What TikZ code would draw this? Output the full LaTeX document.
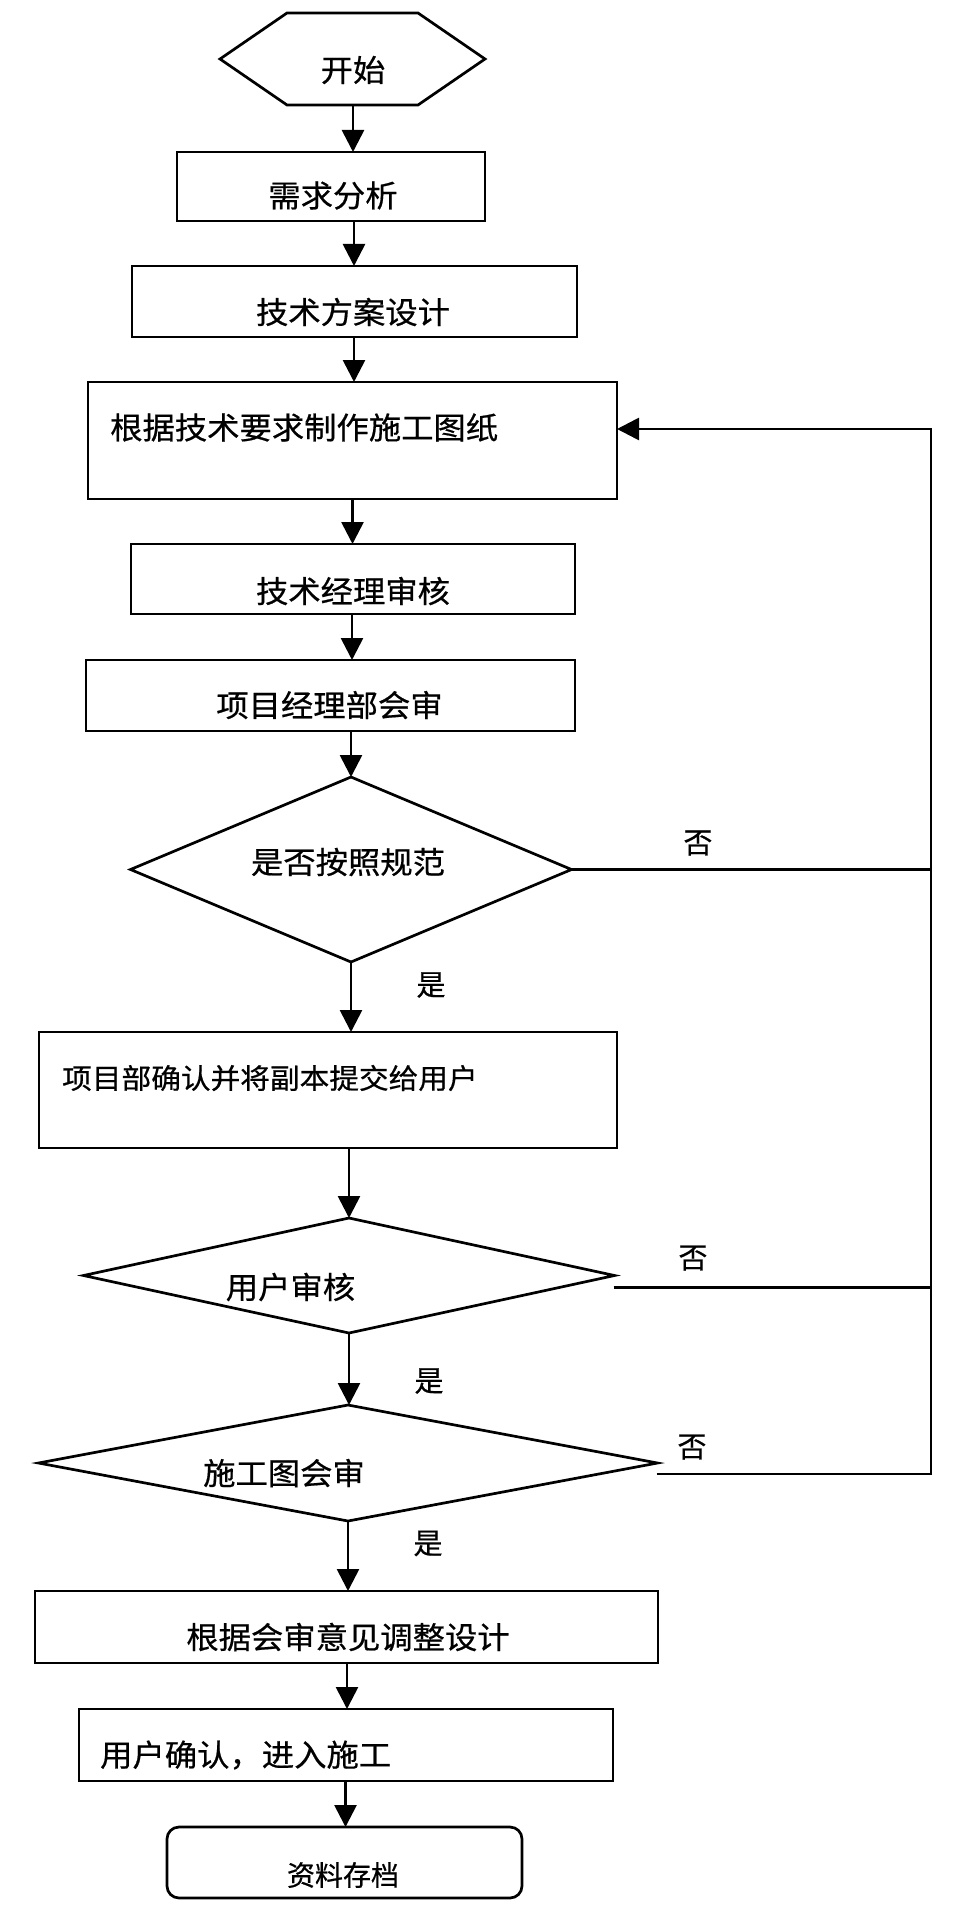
\documentclass[tikz,border=0pt]{standalone}
\usepackage{fontspec}
\newfontfamily\cjk[FakeStretch=1.06,FakeBold=0.6]{Noto Sans CJK SC}
\newfontfamily\cjkn[FakeBold=0.6]{Noto Sans CJK SC}
\usetikzlibrary{arrows.meta,shapes.geometric,calc}
\begin{document}
\begin{tikzpicture}[x=1pt,y=-1pt,
  ln/.style={line width=2.7pt},
  arr/.style={line width=2.7pt,-{Triangle[length=22pt,width=22pt]}},
  box/.style={draw,line width=2.7pt,rectangle,inner sep=0pt,outer sep=0pt},
  dia/.style={draw,line width=2.7pt,diamond,inner sep=0pt,outer sep=0pt},
  txt/.style={inner sep=0pt,font=\cjk\fontsize{30.5}{36}\selectfont},
  stxt/.style={inner sep=0pt,font=\cjk\fontsize{28}{34}\selectfont},
  atxt/.style={inner sep=0pt,font=\cjkn\fontsize{28}{34}\selectfont},
  lbl/.style={inner sep=0pt,font=\cjkn\fontsize{29}{34}\selectfont}]
\useasboundingbox[fill=white] (0,0) rectangle (962,1910);

% start hexagon
\node[inner sep=0pt,outer sep=0pt,minimum width=265pt,minimum height=92pt] (start) at (352.5,59) {};
\draw[ln,line join=miter] (start.west) -- ($(start.north west)+(67,0)$) -- ($(start.north east)+(-67,0)$)
  -- (start.east) -- ($(start.south east)+(-67,0)$) -- ($(start.south west)+(67,0)$) -- cycle;
\node[txt] (tstart) at (353,70) {开始};

% boxes
\node[box,minimum width=308pt,minimum height=69pt] (req) at (331,186.5) {};
\node[txt] (treq) at (333,195.5) {需求分析};
\node[box,minimum width=445pt,minimum height=71pt] (plan) at (354.5,301.5) {};
\node[txt] (tplan) at (353,312) {技术方案设计};
\node[box,minimum width=529pt,minimum height=117pt] (draw) at (352.5,440.5) {};
\node[txt,anchor=west] (tdraw) at (110,427.5) {根据技术要求制作施工图纸};
\node[box,minimum width=444pt,minimum height=70pt] (tmrev) at (353,579) {};
\node[txt] (ttmrev) at (353,591) {技术经理审核};
\node[box,minimum width=489pt,minimum height=71pt] (pmrev) at (330.5,695.5) {};
\node[txt] (tpmrev) at (329.5,705) {项目经理部会审};

% decision 1
\node[dia,minimum width=441pt,minimum height=185pt] (d1) at (351,869.5) {};
\node[txt] (td1) at (348,862) {是否按照规范};

\node[box,minimum width=578pt,minimum height=116pt] (confirm) at (328,1090) {};
\node[stxt,anchor=west] (tconfirm) at (62,1078) {项目部确认并将副本提交给用户};

% decision 2, 3
\node[dia,minimum width=531pt,minimum height=115pt] (d2) at (349,1275.5) {};
\node[txt] (td2) at (290.5,1287) {用户审核};
\node[dia,minimum width=619pt,minimum height=116pt] (d3) at (348,1463) {};
\node[txt] (td3) at (284,1473) {施工图会审};

\node[box,minimum width=623pt,minimum height=72pt] (adjust) at (346.5,1627) {};
\node[txt] (tadjust) at (348,1637) {根据会审意见调整设计};
\node[box,minimum width=534pt,minimum height=72pt] (enter) at (346,1745) {};
\node[txt,anchor=west] (tenter) at (100,1755) {用户确认，进入施工};
\node[box,rounded corners=12pt,minimum width=355pt,minimum height=71pt] (archive) at (344.5,1862.5) {};
\node[atxt] (tarchive) at (343,1875) {资料存档};

% axis coordinates for the vertical arrows
\coordinate (ax1) at (353,0);
\coordinate (ax2) at (354,0);
\coordinate (ax4) at (352.5,0);
\coordinate (ax5) at (352,0);
\coordinate (ax11) at (347,0);
\coordinate (ax12) at (345.5,0);

\draw[arr] (start.south -| ax1) -- (req.north -| ax1);
\draw[arr] (req.south -| ax2) -- (plan.north -| ax2);
\draw[arr] (plan.south -| ax2) -- (draw.north -| ax2);
\draw[arr] (draw.south -| ax4) -- (tmrev.north -| ax4);
\draw[arr] (tmrev.south -| ax5) -- (pmrev.north -| ax5);
\draw[arr] (pmrev.south -| d1.north) -- (d1.north);
\draw[arr] (d1.south) -- (d1.south |- confirm.north);
\draw[arr] (confirm.south -| d2.north) -- (d2.north);
\draw[arr] (d2.south) -- (d2.south |- d3.north);
\draw[arr] (d3.south) -- (d3.south |- adjust.north);
\draw[arr] (adjust.south -| ax11) -- (enter.north -| ax11);
\draw[arr] (enter.south -| ax12) -- (archive.north -| ax12);

% feedback loop
\coordinate (fb) at (931,429);
\draw[ln] (d1.east) -- (d1.east -| fb);
\draw[ln] ($(d2.east)+(-1,12)$) coordinate (d2no) -- (d2no -| fb);
\draw[arr,line join=miter] ($(d3.east)+(-1,11)$) coordinate (d3no) -- (d3no -| fb) -- (fb) -- (fb -| draw.east);

% labels
\node[lbl] (no1) at (698,843) {否};
\node[lbl] (yes1) at (431,985) {是};
\node[lbl] (no2) at (693,1258) {否};
\node[lbl] (yes2) at (429,1381) {是};
\node[lbl] (no3) at (692,1447) {否};
\node[lbl] (yes3) at (428,1543.5) {是};
\end{tikzpicture}
\end{document}
